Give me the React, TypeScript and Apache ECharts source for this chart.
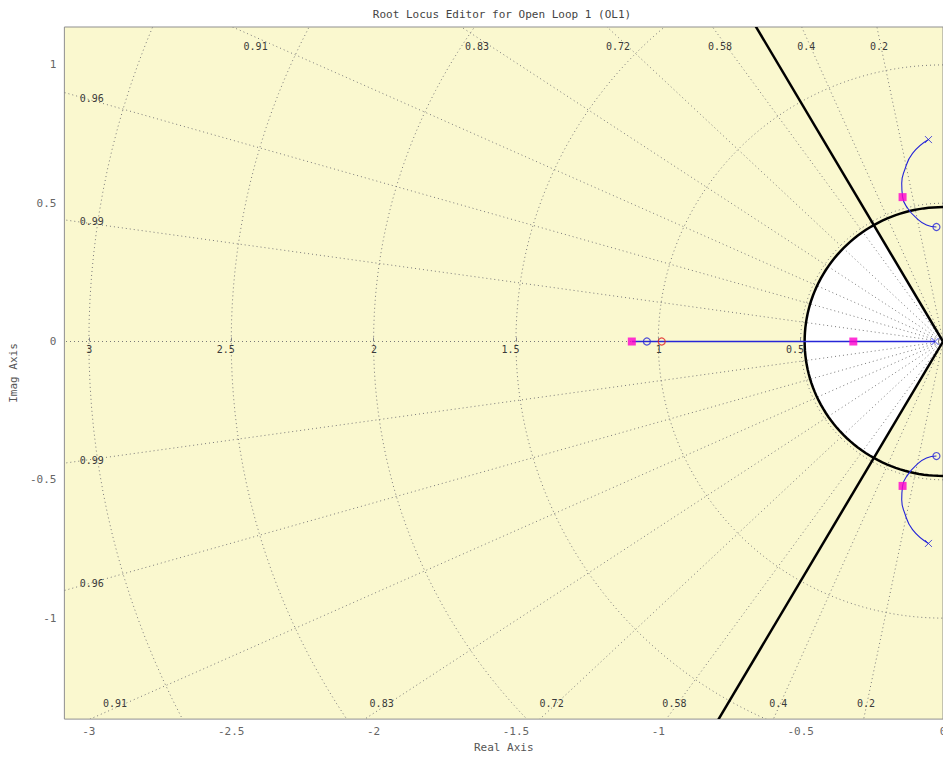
import React, { useEffect, useRef } from "react";
import * as echarts from "echarts";

// ---- axis ranges & ticks ----
const X_MIN = -3.086;
const X_MAX = 0;
const Y_MIN = -1.365;
const Y_MAX = 1.137;
const xTicks = [-3, -2.5, -2, -1.5, -1, -0.5, 0];
const yTicks = [-1, -0.5, 0, 0.5, 1];

// ---- s-plane grid ----
const zetaValues = [0.2, 0.4, 0.58, 0.72, 0.83, 0.91, 0.96, 0.99];
const zetaLabels = ["0.2", "0.4", "0.58", "0.72", "0.83", "0.91", "0.96", "0.99"];
const wnValues = [0.5, 1, 1.5, 2, 2.5, 3];
const wnLabels = ["0.5", "1", "1.5", "2", "2.5", "3"];

// ---- design constraints ----
const constraintZeta = [0.5];
const constraintWn = [0.486];

// ---- root locus ----
const openLoopPoles = [
  [-0.028, 0],
  [-0.051, 0.73],
  [-0.051, -0.73],
];
const openLoopZeros = [
  [-1.04, 0],
  [-0.023, 0.414],
  [-0.023, -0.414],
];
const compensatorZeros = [[-0.988, 0]];
const closedLoopPoles = [
  [-1.093, 0],
  [-0.315, 0],
  [-0.142, 0.522],
  [-0.142, -0.522],
];
const realBranch = [
  [-1.093, 0],
  [-0.028, 0],
];
const upperBranch = [
  [-0.051, 0.73],
  [-0.107, 0.68],
  [-0.135, 0.619],
  [-0.145, 0.572],
  [-0.142, 0.522],
  [-0.124, 0.482],
  [-0.093, 0.446],
  [-0.058, 0.421],
  [-0.023, 0.414],
];
const lowerBranch = [
  [-0.051, -0.73],
  [-0.107, -0.68],
  [-0.135, -0.619],
  [-0.145, -0.572],
  [-0.142, -0.522],
  [-0.124, -0.482],
  [-0.093, -0.446],
  [-0.058, -0.421],
  [-0.023, -0.414],
];

const FONT = "DejaVu Sans Mono";
const BLUE = "#2626d8";
const GRID_STROKE = "#7a7a7a";
const DOT = [1, 3];

export default function App() {
  const ref = useRef<HTMLDivElement>(null);

  useEffect(() => {
    if (!ref.current) return;
    const chart = echarts.init(ref.current, null, { renderer: "svg" });

    const arcPoints = (api: any, r: number, a0: number, a1: number) => {
      const pts: number[][] = [];
      const n = 120;
      for (let i = 0; i <= n; i++) {
        const t = ((a0 + ((a1 - a0) * i) / n) * Math.PI) / 180;
        pts.push(api.coord([r * Math.cos(t), r * Math.sin(t)]));
      }
      return pts;
    };

    const option: any = {
      animation: false,
      backgroundColor: "#ffffff",
      grid: {
        left: 62,
        right: 17,
        top: 27,
        bottom: 38,
        show: true,
        backgroundColor: "#faf8cf",
        borderColor: "#8f8f8f",
        borderWidth: 1,
      },
      graphic: [
        {
          type: "text",
          x: 502,
          y: 14,
          style: {
            text: "Root Locus Editor for Open Loop 1 (OL1)",
            fill: "#444",
            font: `11px "${FONT}"`,
            align: "center",
            verticalAlign: "middle",
          },
        },
      ],
      xAxis: {
        type: "value",
        min: X_MIN,
        max: X_MAX,
        name: "Real Axis",
        nameLocation: "middle",
        nameGap: 22,
        nameTextStyle: { color: "#555", fontFamily: FONT, fontSize: 11 },
        axisLine: { show: false },
        axisTick: { show: true, inside: true, length: 4, customValues: xTicks, lineStyle: { color: "#8f8f8f" } },
        axisLabel: {
          customValues: xTicks,
          formatter: (v: number) => String(v),
          color: "#666",
          fontFamily: FONT,
          fontSize: 11,
          margin: 7,
        },
        splitLine: { show: false },
      },
      yAxis: {
        type: "value",
        min: Y_MIN,
        max: Y_MAX,
        name: "Imag Axis",
        nameLocation: "middle",
        nameGap: 40,
        nameTextStyle: { color: "#555", fontFamily: FONT, fontSize: 11 },
        axisLine: { show: false },
        axisTick: { show: true, inside: true, length: 4, customValues: yTicks, lineStyle: { color: "#8f8f8f" } },
        axisLabel: {
          customValues: yTicks,
          formatter: (v: number) => String(v),
          color: "#666",
          fontFamily: FONT,
          fontSize: 11,
          margin: 8,
        },
        splitLine: { show: false },
      },
      series: [
        // white region satisfying constraints
        {
          type: "custom",
          z: 1,
          clip: true,
          silent: true,
          data: [[constraintZeta[0], constraintWn[0]]],
          renderItem: (params: any, api: any) => {
            const z = api.value(0);
            const r = api.value(1);
            const half = (Math.acos(z) * 180) / Math.PI;
            const pts = [api.coord([0, 0]), ...arcPoints(api, r, 180 - half, 180 + half)];
            return { type: "polygon", shape: { points: pts }, style: { fill: "#ffffff", stroke: "none" } };
          },
        },
        // damping grid lines
        {
          type: "custom",
          z: 2,
          clip: true,
          silent: true,
          data: [...zetaValues.map((v) => [v]), [1]],
          renderItem: (params: any, api: any) => {
            const z = api.value(0);
            const th = Math.acos(z);
            const o = api.coord([0, 0]);
            const a = api.coord([-5 * Math.cos(th), 5 * Math.sin(th)]);
            const b = api.coord([-5 * Math.cos(th), -5 * Math.sin(th)]);
            const st = { stroke: GRID_STROKE, lineWidth: 1, lineDash: DOT };
            return {
              type: "group",
              children: [
                { type: "line", shape: { x1: o[0], y1: o[1], x2: a[0], y2: a[1] }, style: st },
                { type: "line", shape: { x1: o[0], y1: o[1], x2: b[0], y2: b[1] }, style: st },
              ],
            };
          },
        },
        // natural frequency circles
        {
          type: "custom",
          z: 2,
          clip: true,
          silent: true,
          data: wnValues.map((v) => [v]),
          renderItem: (params: any, api: any) => {
            const r = api.value(0);
            return {
              type: "polyline",
              shape: { points: arcPoints(api, r, 90, 270) },
              style: { stroke: GRID_STROKE, lineWidth: 1, lineDash: DOT, fill: "none" },
            };
          },
        },
        // grid labels (damping)
        {
          type: "custom",
          z: 6,
          clip: false,
          silent: true,
          data: zetaValues.map((v, i) => [v, i]),
          renderItem: (params: any, api: any) => {
            const z = api.value(0);
            const label = zetaLabels[api.value(1)];
            const t = Math.tan(Math.acos(z));
            const st = { text: label, fill: "#3a3a3a", font: `10px "${FONT}"`, align: "center", verticalAlign: "middle" };
            const children: any[] = [];
            const xTop = -1.1 / t;
            if (xTop > X_MIN + 0.1) {
              const p = api.coord([xTop, 1.1]);
              const q = api.coord([-1.325 / t, -1.325]);
              children.push({ type: "text", x: p[0], y: p[1] + 9, style: st });
              children.push({ type: "text", x: q[0], y: q[1] - 5, style: st });
            } else {
              const xl = X_MIN + 0.096;
              const p = api.coord([xl, -xl * t]);
              const q = api.coord([xl, xl * t]);
              children.push({ type: "text", x: p[0], y: p[1] - 2, style: st });
              children.push({ type: "text", x: q[0], y: q[1] + 1, style: st });
            }
            return { type: "group", children };
          },
        },
        // grid labels (natural frequency)
        {
          type: "custom",
          z: 6,
          clip: false,
          silent: true,
          data: wnValues.map((v, i) => [v, i]),
          renderItem: (params: any, api: any) => {
            const r = api.value(0);
            const p = api.coord([-r, 0]);
            return {
              type: "text",
              x: p[0] + 3.5,
              y: p[1] + 8,
              style: { text: wnLabels[api.value(1)], fill: "#3a3a3a", font: `10px "${FONT}"`, align: "right", verticalAlign: "middle" },
            };
          },
        },
        // constraint: damping lines
        {
          type: "custom",
          z: 3,
          clip: true,
          silent: true,
          data: constraintZeta.map((v) => [v]),
          renderItem: (params: any, api: any) => {
            const th = Math.acos(api.value(0));
            const o = api.coord([0, 0]);
            const a = api.coord([-5 * Math.cos(th), 5 * Math.sin(th)]);
            const b = api.coord([-5 * Math.cos(th), -5 * Math.sin(th)]);
            const st = { stroke: "#000", lineWidth: 2.5 };
            return {
              type: "group",
              children: [
                { type: "line", shape: { x1: o[0], y1: o[1], x2: a[0], y2: a[1] }, style: st },
                { type: "line", shape: { x1: o[0], y1: o[1], x2: b[0], y2: b[1] }, style: st },
              ],
            };
          },
        },
        // constraint: natural frequency circle
        {
          type: "custom",
          z: 3,
          clip: true,
          silent: true,
          data: constraintWn.map((v) => [v]),
          renderItem: (params: any, api: any) => ({
            type: "polyline",
            shape: { points: arcPoints(api, api.value(0), 60, 300) },
            style: { stroke: "#000", lineWidth: 2.5, fill: "none" },
          }),
        },
        // root locus branches
        {
          type: "line",
          z: 4,
          data: realBranch,
          showSymbol: false,
          lineStyle: { color: BLUE, width: 1.4 },
        },
        {
          type: "line",
          z: 4,
          data: upperBranch,
          smooth: true,
          showSymbol: false,
          lineStyle: { color: BLUE, width: 1.1 },
        },
        {
          type: "line",
          z: 4,
          data: lowerBranch,
          smooth: true,
          showSymbol: false,
          lineStyle: { color: BLUE, width: 1.1 },
        },
        // markers
        {
          type: "scatter",
          z: 5,
          data: openLoopPoles,
          symbol: "path://M0 0L10 10M10 0L0 10",
          symbolSize: 7,
          itemStyle: { color: BLUE, borderColor: BLUE, borderWidth: 1 },
        },
        {
          type: "scatter",
          z: 5,
          data: openLoopZeros,
          symbol: "circle",
          symbolSize: 7,
          itemStyle: { color: "rgba(0,0,0,0)", borderColor: BLUE, borderWidth: 1.2 },
        },
        {
          type: "scatter",
          z: 5,
          data: compensatorZeros,
          symbol: "circle",
          symbolSize: 7,
          itemStyle: { color: "rgba(0,0,0,0)", borderColor: "#e02020", borderWidth: 1.2 },
        },
        {
          type: "scatter",
          z: 6,
          data: closedLoopPoles,
          symbol: "rect",
          symbolSize: 8,
          itemStyle: { color: "#ff00cc" },
        },
      ],
    };

    chart.setOption(option);
    return () => chart.dispose();
  }, []);

  return <div ref={ref} style={{ position: "fixed", left: 0, top: 0, width: 960, height: 758 }} />;
}
